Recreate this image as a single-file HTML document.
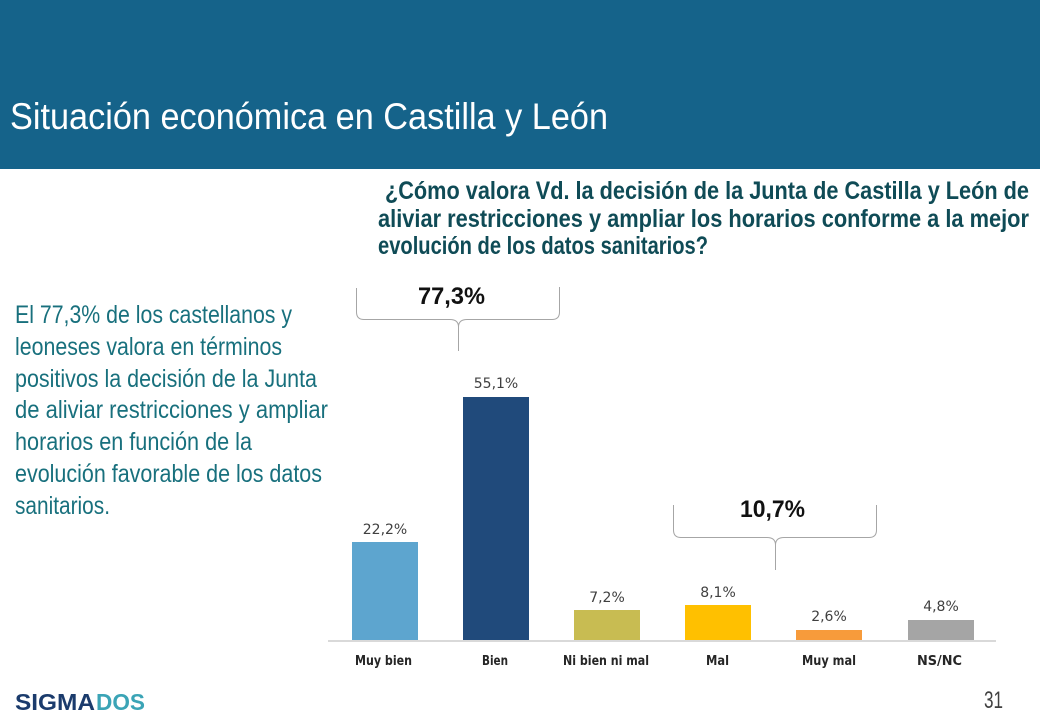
<!DOCTYPE html>
<html>
<head>
<meta charset="utf-8">
<style>
html,body{margin:0;padding:0;background:#fff;}
svg{display:block;}
.cond{font-family:"Liberation Sans Narrow","Liberation Sans",sans-serif;}
.dv{font-family:"DejaVu Sans","Liberation Sans",sans-serif;}
</style>
</head>
<body>
<svg width="1040" height="720" viewBox="0 0 1040 720" xmlns="http://www.w3.org/2000/svg">
  <rect x="0" y="0" width="1040" height="720" fill="#ffffff"/>
  <!-- header band -->
  <rect x="0" y="0" width="1040" height="169" fill="#15638A"/>
  <text class="cond" x="10" y="129" font-size="37" fill="#ffffff" textLength="598" lengthAdjust="spacingAndGlyphs">Situación económica en Castilla y León</text>

  <!-- question -->
  <g class="cond" font-size="25" font-weight="bold" fill="#0F4B56">
    <text x="385" y="199" textLength="644" lengthAdjust="spacingAndGlyphs">¿Cómo valora Vd. la decisión de la Junta de Castilla y León de</text>
    <text x="378" y="227" textLength="651" lengthAdjust="spacingAndGlyphs">aliviar restricciones y ampliar los horarios conforme a la mejor</text>
    <text x="378" y="254" textLength="330" lengthAdjust="spacingAndGlyphs">evolución de los datos sanitarios?</text>
  </g>

  <!-- left paragraph -->
  <g class="cond" font-size="25" fill="#18707D">
    <text x="15" y="323" textLength="277" lengthAdjust="spacingAndGlyphs">El 77,3% de los castellanos y</text>
    <text x="15" y="355" textLength="267" lengthAdjust="spacingAndGlyphs">leoneses valora en términos</text>
    <text x="15" y="387" textLength="302" lengthAdjust="spacingAndGlyphs">positivos la decisión de la Junta</text>
    <text x="15" y="418" textLength="313" lengthAdjust="spacingAndGlyphs">de aliviar restricciones y ampliar</text>
    <text x="15" y="450" textLength="237" lengthAdjust="spacingAndGlyphs">horarios en función de la</text>
    <text x="15" y="482" textLength="307" lengthAdjust="spacingAndGlyphs">evolución favorable de los datos</text>
    <text x="15" y="514" textLength="95" lengthAdjust="spacingAndGlyphs">sanitarios.</text>
  </g>

  <!-- brackets -->
  <g fill="none" stroke="#A6A6A6" stroke-width="1">
    <path d="M356.5,288 L356.5,312 Q356.5,319.5 364,319.5 L450,319.5 Q458.5,319.5 458.5,327 L458.5,351"/>
    <path d="M458.5,327 Q458.5,319.5 467,319.5 L552,319.5 Q559.5,319.5 559.5,312 L559.5,287"/>
    <path d="M673.5,505 L673.5,530 Q673.5,537.5 681,537.5 L767,537.5 Q775.5,537.5 775.5,545 L775.5,570"/>
    <path d="M775.5,545 Q775.5,537.5 784,537.5 L869,537.5 Q876.5,537.5 876.5,530 L876.5,505"/>
  </g>
  <text x="418" y="304" font-family="Liberation Sans, sans-serif" font-size="24" font-weight="bold" fill="#111" textLength="67" lengthAdjust="spacingAndGlyphs">77,3%</text>
  <text x="740" y="517" font-family="Liberation Sans, sans-serif" font-size="24" font-weight="bold" fill="#111" textLength="65" lengthAdjust="spacingAndGlyphs">10,7%</text>

  <!-- axis -->
  <line x1="328" y1="641" x2="996" y2="641" stroke="#D9D9D9" stroke-width="2"/>

  <!-- bars -->
  <rect x="352" y="542" width="66" height="98" fill="#5DA5CF"/>
  <rect x="463" y="397" width="66" height="243" fill="#204A7B"/>
  <rect x="574" y="610" width="66" height="30" fill="#C8BC52"/>
  <rect x="685" y="605" width="66" height="35" fill="#FFC000"/>
  <rect x="796" y="630" width="66" height="10" fill="#F79B3B"/>
  <rect x="908" y="620" width="66" height="20" fill="#A5A5A5"/>

  <!-- value labels -->
  <g class="dv" font-size="14" fill="#404040" text-anchor="middle">
    <text x="385" y="534">22,2%</text>
    <text x="496" y="388">55,1%</text>
    <text x="607" y="602">7,2%</text>
    <text x="718" y="597">8,1%</text>
    <text x="829" y="621">2,6%</text>
    <text x="941" y="611">4,8%</text>
  </g>

  <!-- category labels -->
  <g class="dv" font-size="13" font-weight="bold" fill="#262626">
    <text x="355" y="665" textLength="57" lengthAdjust="spacingAndGlyphs">Muy bien</text>
    <text x="482" y="665" textLength="26" lengthAdjust="spacingAndGlyphs">Bien</text>
    <text x="563" y="665" textLength="86" lengthAdjust="spacingAndGlyphs">Ni bien ni mal</text>
    <text x="706" y="665" textLength="23" lengthAdjust="spacingAndGlyphs">Mal</text>
    <text x="802" y="665" textLength="54" lengthAdjust="spacingAndGlyphs">Muy mal</text>
    <text x="917" y="665" textLength="45" lengthAdjust="spacingAndGlyphs">NS/NC</text>
  </g>

  <!-- footer -->
  <text x="15" y="710" font-family="Liberation Sans, sans-serif" font-size="23" font-weight="bold" fill="#1B3B6C" textLength="80" lengthAdjust="spacingAndGlyphs">SIGMA</text>
  <text x="96" y="710" font-family="Liberation Sans, sans-serif" font-size="23" font-weight="bold" fill="#3BA4B6" textLength="49" lengthAdjust="spacingAndGlyphs">DOS</text>
  <text class="cond" x="984" y="708" font-size="24" fill="#404040" textLength="19" lengthAdjust="spacingAndGlyphs">31</text>
</svg>
</body>
</html>
